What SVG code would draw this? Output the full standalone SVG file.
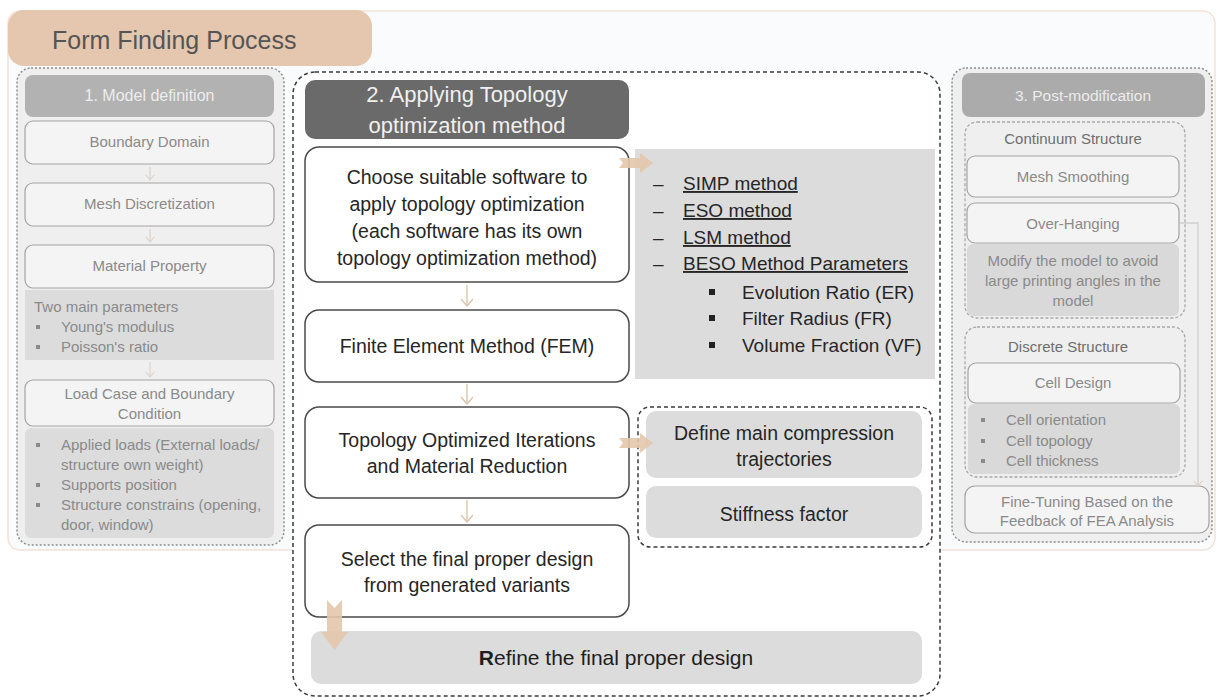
<svg xmlns="http://www.w3.org/2000/svg" width="1217" height="700" viewBox="0 0 1217 700">
<defs>
<style>
text{font-family:"Liberation Sans",Arial,sans-serif}
.gt{fill:#8a8a8a;font-size:15px}
.gtc{fill:#8a8a8a;font-size:15px;text-anchor:middle}
.mt{fill:#262626;font-size:19.5px;text-anchor:middle}
.lt{fill:#262626;font-size:19px}
.lbox{fill:#f4f4f4;stroke:#a3a3a3;stroke-width:1.2}
.gbox{fill:#dcdcdc}
.mbox{fill:#fff;stroke:#4a4a4a;stroke-width:1.5}
.thin{fill:none;stroke:#dcc4ae;stroke-width:1.4}
.thinl{fill:none;stroke:#ddd2c8;stroke-width:1.2}
.fat{fill:#e3c6aa;opacity:0.9}
</style>
<marker id="am" markerUnits="userSpaceOnUse" viewBox="0 0 14 10" refX="7" refY="9" markerWidth="14" markerHeight="10" orient="0">
<path d="M1,2 L7,9 L13,2" fill="none" stroke="#dcc4ae" stroke-width="1.4"/>
</marker>
<marker id="al" markerUnits="userSpaceOnUse" viewBox="0 0 14 10" refX="7" refY="9" markerWidth="12" markerHeight="9" orient="0">
<path d="M2,3 L7,9 L12,3" fill="none" stroke="#ddd2c8" stroke-width="1.2"/>
</marker>
</defs>

<g id="frame">
<rect x="8" y="11" width="1207" height="539" rx="12" fill="#fafbfc" stroke="#f1e4d9" stroke-width="1.5"/>
<rect x="8" y="10" width="364" height="56" rx="16" fill="#e4c7ae"/>
<text x="52" y="49" style="font-size:25px;fill:#555">Form Finding Process</text>
</g>

<g id="panel-model">
<rect x="17" y="68" width="267" height="477" rx="14" fill="#efefef" stroke="#8e8e8e" stroke-width="1.5" stroke-dasharray="2 2"/>
<rect x="25" y="75" width="249" height="42" rx="8" fill="#b2b2b2"/>
<text x="149.5" y="101" class="gtc" style="fill:#ededed;font-size:16px">1. Model definition</text>
</g>
<g id="n-boundary"><rect class="lbox" x="25" y="121" width="249" height="43" rx="8"/><text x="149.5" y="147" class="gtc">Boundary Domain</text></g>
<g id="n-mesh"><rect class="lbox" x="25" y="183" width="249" height="43" rx="8"/><text x="149.5" y="209" class="gtc">Mesh Discretization</text></g>
<g id="n-material"><rect class="lbox" x="25" y="245" width="249" height="43" rx="8"/><text x="149.5" y="271" class="gtc">Material Property</text></g>
<g id="n-material-params">
<rect x="25" y="290" width="249" height="70" fill="#dcdcdc"/>
<text x="34" y="312" class="gt">Two main parameters</text>
<rect x="36" y="325" width="4" height="4" fill="#8a8a8a"/><text x="61" y="332" class="gt">Young's modulus</text>
<rect x="36" y="345" width="4" height="4" fill="#8a8a8a"/><text x="61" y="352" class="gt">Poisson's ratio</text>
</g>
<g id="n-load"><rect class="lbox" x="25" y="380" width="249" height="46" rx="8"/><text x="149.5" y="399" class="gtc">Load Case and Boundary</text><text x="149.5" y="419" class="gtc">Condition</text></g>
<g id="n-load-items">
<rect x="25" y="428" width="249" height="110" rx="6" fill="#dcdcdc"/>
<rect x="36" y="443" width="4" height="4" fill="#8a8a8a"/><text x="61" y="450" class="gt">Applied loads (External loads/</text>
<text x="61" y="470" class="gt">structure own weight)</text>
<rect x="36" y="483" width="4" height="4" fill="#8a8a8a"/><text x="61" y="490" class="gt">Supports position</text>
<rect x="36" y="503" width="4" height="4" fill="#8a8a8a"/><text x="61" y="510" class="gt">Structure constrains (opening,</text>
<text x="61" y="530" class="gt">door, window)</text>
</g>

<g id="panel-topology">
<rect x="293" y="72" width="647" height="624" rx="22" fill="#fff" stroke="#3a3a3a" stroke-width="1.5" stroke-dasharray="4 3"/>
<rect x="305" y="80" width="324" height="59" rx="10" fill="#6a6a6a"/>
<text x="467" y="102" style="font-size:22px;fill:#f0f0f0;text-anchor:middle">2. Applying Topology</text>
<text x="467" y="133" style="font-size:22px;fill:#f0f0f0;text-anchor:middle">optimization method</text>
</g>
<g id="n-choose"><rect class="mbox" x="305" y="147" width="324" height="135" rx="14"/>
<text x="467" y="184" class="mt">Choose suitable software to</text>
<text x="467" y="211" class="mt">apply topology optimization</text>
<text x="467" y="238" class="mt">(each software has its own</text>
<text x="467" y="265" class="mt">topology optimization method)</text></g>
<g id="n-fem"><rect class="mbox" x="305" y="310" width="324" height="72" rx="14"/><text x="467" y="353" class="mt">Finite Element Method (FEM)</text></g>
<g id="n-iter"><rect class="mbox" x="305" y="407" width="324" height="91" rx="14"/>
<text x="467" y="447" class="mt">Topology Optimized Iterations</text>
<text x="467" y="473" class="mt">and Material Reduction</text></g>
<g id="n-select"><rect class="mbox" x="305" y="525" width="324" height="92" rx="14"/>
<text x="467" y="566" class="mt">Select the final proper design</text>
<text x="467" y="592" class="mt">from generated variants</text></g>
<g id="n-refine"><rect class="gbox" x="311" y="631" width="611" height="53" rx="10"/>
<text x="616" y="665" style="font-size:21px;fill:#1e1e1e;text-anchor:middle"><tspan font-weight="bold">R</tspan>efine the final proper design</text></g>

<g id="n-methods">
<rect class="gbox" x="635" y="149" width="300" height="230"/>
<text x="653" y="190" class="lt">–</text><text x="683" y="190" class="lt" text-decoration="underline">SIMP method</text>
<text x="653" y="217" class="lt">–</text><text x="683" y="217" class="lt" text-decoration="underline">ESO method</text>
<text x="653" y="244" class="lt">–</text><text x="683" y="244" class="lt" text-decoration="underline">LSM method</text>
<text x="653" y="270" class="lt">–</text><text x="683" y="270" class="lt" text-decoration="underline">BESO Method Parameters</text>
<rect x="709" y="289" width="6" height="6" fill="#222"/><text x="742" y="299" class="lt">Evolution Ratio (ER)</text>
<rect x="709" y="315" width="6" height="6" fill="#222"/><text x="742" y="325" class="lt">Filter Radius (FR)</text>
<rect x="709" y="342" width="6" height="6" fill="#222"/><text x="742" y="352" class="lt">Volume Fraction (VF)</text>
</g>
<g id="g-criteria">
<rect x="638" y="407" width="294" height="140" rx="12" fill="none" stroke="#3a3a3a" stroke-width="1.5" stroke-dasharray="4 3"/>
</g>
<g id="n-define"><rect class="gbox" x="646" y="411" width="276" height="67" rx="10"/>
<text x="784" y="440" class="mt">Define main compression</text>
<text x="784" y="466" class="mt">trajectories</text></g>
<g id="n-stiff"><rect class="gbox" x="646" y="486" width="276" height="52" rx="10"/>
<text x="784" y="521" class="mt">Stiffness factor</text></g>

<g id="panel-post">
<rect x="952" y="68" width="260" height="474" rx="14" fill="#efefef" stroke="#8e8e8e" stroke-width="1.5" stroke-dasharray="2 2"/>
<rect x="962" y="73" width="243" height="44" rx="8" fill="#ababab"/>
<text x="1083" y="101" class="gtc" style="fill:#ececec;font-size:15.5px">3. Post-modification</text>
</g>
<g id="g-continuum">
<rect x="965" y="122" width="220" height="196" rx="12" fill="none" stroke="#a8a8a8" stroke-width="1.3" stroke-dasharray="3 2"/>
<text x="1073" y="144" class="gtc" style="fill:#6e6e6e">Continuum Structure</text>
</g>
<g id="n-smooth"><rect class="lbox" x="967" y="156" width="212" height="41" rx="8"/><text x="1073" y="182" class="gtc">Mesh Smoothing</text></g>
<g id="n-overhang"><rect class="lbox" x="967" y="203" width="212" height="40" rx="8"/><text x="1073" y="229" class="gtc">Over-Hanging</text></g>
<g id="n-overhang-note"><rect x="967" y="244" width="212" height="72" rx="6" fill="#d9d9d9"/>
<text x="1073" y="266" class="gtc">Modify the model to avoid</text>
<text x="1073" y="286" class="gtc">large printing angles in the</text>
<text x="1073" y="306" class="gtc">model</text></g>
<g id="g-discrete">
<rect x="965" y="327" width="220" height="150" rx="12" fill="none" stroke="#a8a8a8" stroke-width="1.3" stroke-dasharray="3 2"/>
<text x="1068" y="352" class="gtc" style="fill:#6e6e6e">Discrete Structure</text>
</g>
<g id="n-cell"><rect class="lbox" x="968" y="363" width="212" height="40" rx="8"/><text x="1073" y="388" class="gtc">Cell Design</text></g>
<g id="n-cell-items"><rect x="968" y="404" width="212" height="70" rx="6" fill="#d9d9d9"/>
<rect x="981" y="418" width="4" height="4" fill="#8a8a8a"/><text x="1006" y="425" class="gt">Cell orientation</text>
<rect x="981" y="439" width="4" height="4" fill="#8a8a8a"/><text x="1006" y="446" class="gt">Cell topology</text>
<rect x="981" y="459" width="4" height="4" fill="#8a8a8a"/><text x="1006" y="466" class="gt">Cell thickness</text></g>
<g id="n-finetune"><rect class="lbox" x="965" y="486" width="244" height="47" rx="10"/>
<text x="1087" y="507" class="gtc">Fine-Tuning Based on the</text>
<text x="1087" y="526" class="gtc">Feedback of FEA Analysis</text></g>

<g id="connectors">
<line class="thinl" x1="150" y1="167" x2="150" y2="180" marker-end="url(#al)"/>
<line class="thinl" x1="150" y1="229" x2="150" y2="242" marker-end="url(#al)"/>
<line class="thinl" x1="150" y1="362" x2="150" y2="377" marker-end="url(#al)"/>
<line class="thin" x1="467" y1="285" x2="467" y2="306" marker-end="url(#am)"/>
<line class="thin" x1="467" y1="384" x2="467" y2="404" marker-end="url(#am)"/>
<line class="thin" x1="467" y1="500" x2="467" y2="522" marker-end="url(#am)"/>
<polyline points="1180,223 1198,223 1198,486" fill="none" stroke="#cfcfcf" stroke-width="1.3" marker-end="url(#al)"/>
<polygon class="fat" points="619,158 640,158 640,153 653,163 640,173 640,168 619,168 623,163"/>
<polygon class="fat" points="619,438 640,438 640,433 653,443 640,453 640,448 619,448 623,443"/>
<polygon class="fat" points="327,600 334.5,608 342,600 342,632 348,632 334.5,650 321,632 327,632"/>
</g>
</svg>
